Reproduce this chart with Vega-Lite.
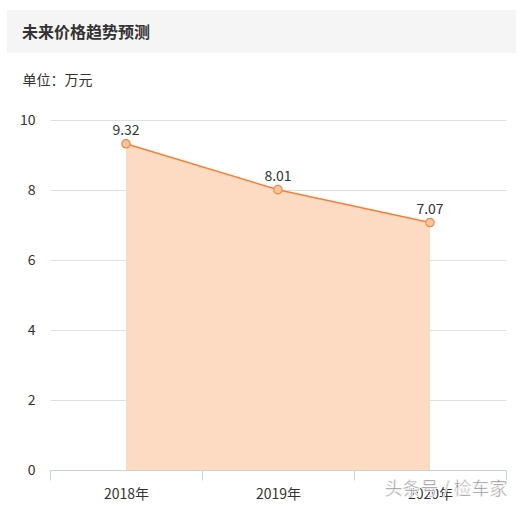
{
  "$schema": "https://vega.github.io/schema/vega-lite/v6.json",
  "background": "#ffffff",
  "padding": {"left": 7, "top": 10, "right": 8, "bottom": 0},
  "spacing": 20,
  "config": {
    "font": "Noto Sans CJK SC",
    "view": {"stroke": null}
  },
  "data": {
    "values": [
      {"year": "2018年", "price": 9.32},
      {"year": "2019年", "price": 8.01},
      {"year": "2020年", "price": 7.07}
    ]
  },
  "vconcat": [
    {
      "width": 509,
      "height": 43,
      "view": {"fill": "#f5f5f5", "stroke": null},
      "title": {
        "text": "未来价格趋势预测",
        "anchor": "start",
        "frame": "group",
        "dx": 15,
        "offset": -31,
        "fontSize": 16,
        "fontWeight": "bold",
        "color": "#333333"
      },
      "mark": {"type": "text"},
      "encoding": {"text": {"value": ""}}
    },
    {
      "width": 499,
      "height": 350,
      "encoding": {
        "x": {
          "field": "year",
          "type": "ordinal",
          "bandPosition": 0.5,
          "scale": {"paddingInner": 0, "paddingOuter": 0, "range": [43, 499]},
          "axis": {
            "title": null,
            "labelAngle": 0,
            "labelFontSize": 14,
            "labelColor": "#333333",
            "labelPadding": 7,
            "tickBand": "extent",
            "tickSize": 10,
            "tickColor": "#c4d4e6",
            "domainColor": "#c4d4e6",
            "grid": false
          }
        },
        "y": {
          "field": "price",
          "type": "quantitative",
          "scale": {"domain": [0, 10]},
          "axis": {
            "offset": -43,
            "title": "单位：万元",
            "titleAngle": 0,
            "titleAlign": "left",
            "titleBaseline": "middle",
            "titleX": -28,
            "titleY": -40,
            "titleFontSize": 14,
            "titleFontWeight": "normal",
            "titleColor": "#333333",
            "values": [0, 2, 4, 6, 8, 10],
            "labelFontSize": 14,
            "labelColor": "#333333",
            "labelPadding": 15,
            "domain": false,
            "ticks": false,
            "gridColor": "#e0e0e0"
          }
        }
      },
      "layer": [
        {"mark": {"type": "area", "color": "#fddbc3", "opacity": 1}},
        {"mark": {"type": "line", "color": "#fb7d34", "strokeWidth": 1.5}},
        {
          "mark": {
            "type": "point",
            "filled": true,
            "size": 70,
            "fill": "#fcc49c",
            "stroke": "#f58543",
            "strokeWidth": 1.2,
            "opacity": 1
          }
        },
        {
          "mark": {"type": "text", "dy": -13, "fontSize": 14, "color": "#333333"},
          "encoding": {"text": {"field": "price", "type": "quantitative", "format": ".2f"}}
        },
        {
          "mark": {
            "type": "text",
            "text": "头条号 / 检车家",
            "dx": 16,
            "dy": 20,
            "fontSize": 18,
            "color": "#8a8a8a",
            "stroke": "#ffffff",
            "strokeWidth": 0.6
          },
          "encoding": {
            "x": {"datum": "2020年"},
            "y": {"datum": 0}
          }
        }
      ]
    }
  ]
}
